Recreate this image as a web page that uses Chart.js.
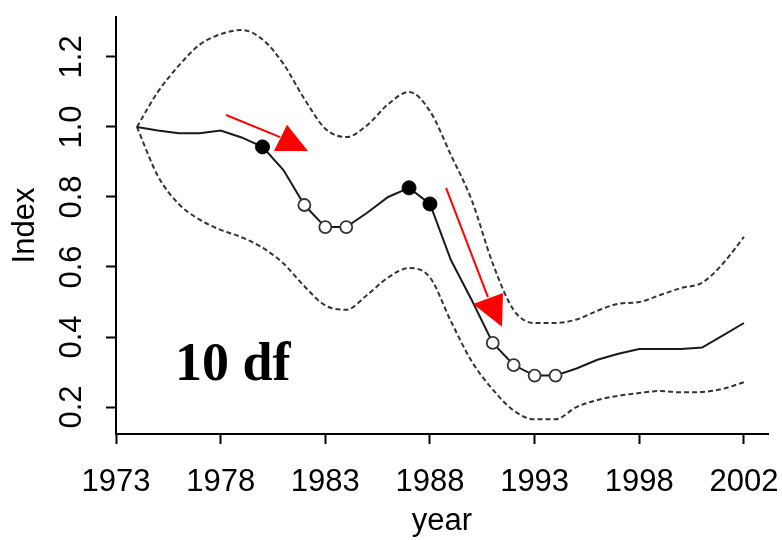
<!DOCTYPE html>
<html>
<head>
<meta charset="utf-8">
<script src="https://cdn.jsdelivr.net/npm/chart.js@4.4.1/dist/chart.umd.min.js"></script>
<style>
  html, body { margin: 0; padding: 0; background: #fff; }
  #wrap { width: 782px; height: 540px; }
</style>
</head>
<body>
<div id="wrap"><canvas id="indexChart" width="782" height="540"></canvas></div>
<script>
// ---- data ----
const years = [1974, 1975, 1976, 1977, 1978, 1979, 1980, 1981, 1982, 1983,
               1984, 1985, 1986, 1987, 1988, 1989, 1990, 1991, 1992, 1993,
               1994, 1995, 1996, 1997, 1998, 1999, 2000, 2001, 2002, 2003];
const indexFit = [1.0, 0.99, 0.982, 0.982, 0.99, 0.97, 0.943, 0.877, 0.777, 0.714,
                  0.714, 0.755, 0.80, 0.826, 0.78, 0.62, 0.505, 0.383, 0.32, 0.29,
                  0.29, 0.31, 0.335, 0.352, 0.366, 0.366, 0.366, 0.37, 0.405, 0.44];
const upperBand = [1.0, 1.10, 1.175, 1.235, 1.265, 1.277, 1.25, 1.18, 1.08, 0.995,
                   0.971, 1.005, 1.065, 1.10, 1.045, 0.92, 0.79, 0.61, 0.477, 0.44,
                   0.44, 0.45, 0.475, 0.495, 0.50, 0.52, 0.54, 0.555, 0.61, 0.686];
const lowerBand = [1.0, 0.86, 0.78, 0.735, 0.706, 0.685, 0.655, 0.61, 0.545, 0.49,
                   0.478, 0.52, 0.57, 0.597, 0.57, 0.445, 0.33, 0.25, 0.19, 0.165,
                   0.165, 0.2, 0.22, 0.232, 0.24, 0.246, 0.242, 0.243, 0.252, 0.271];
const filledYears = [1980, 1987, 1988];
const openYears = [1982, 1983, 1984, 1991, 1992, 1993, 1994];

const xTickValues = [1973, 1978, 1983, 1988, 1993, 1998, 2003];
const xTickLabels = ["1973", "1978", "1983", "1988", "1993", "1998", "2002"];
const yTickValues = [0.2, 0.4, 0.6, 0.8, 1.0, 1.2];

// red arrows, in data units: shaft start/end and the head triangle
const arrowShafts = [
  [[1978.26, 1.034], [1980.84, 0.971]],
  [[1988.77, 0.826], [1990.77, 0.514]],
];
const arrowHeads = [
  [[1981.17, 1.006], [1980.55, 0.931], [1982.17, 0.931]],
  [[1990.06, 0.494], [1991.49, 0.526], [1991.44, 0.429]],
];
const noteText = "10 df";
const notePos = [1975.82, 0.277];

// ---- helpers ----
function toPoints(xs, ys) {
  return xs.map((x, i) => ({ x, y: ys[i] }));
}

function pickYears(list) {
  return list.map(y => ({ x: y, y: indexFit[years.indexOf(y)] }));
}

// keep the plot box where the figure has it (no extra room for label overhang)
function fixScaleBox(size) {
  return (scale) => {
    if (scale.isHorizontal()) scale.height = size; else scale.width = size;
    scale.paddingLeft = 0;
    scale.paddingRight = 0;
    scale.paddingTop = 0;
    scale.paddingBottom = 0;
  };
}

// draws the arrows and the "10 df" label on top of the series
const annotationPlugin = {
  id: "annotations",
  afterDatasetsDraw(chart) {
    const { ctx, scales: { x, y } } = chart;
    ctx.save();
    ctx.strokeStyle = "#ff0000";
    ctx.fillStyle = "#ff0000";
    ctx.lineWidth = 2;
    arrowShafts.forEach(([a, b], i) => {
      ctx.beginPath();
      ctx.moveTo(x.getPixelForValue(a[0]), y.getPixelForValue(a[1]));
      ctx.lineTo(x.getPixelForValue(b[0]), y.getPixelForValue(b[1]));
      ctx.stroke();
      const head = arrowHeads[i];
      ctx.beginPath();
      head.forEach((p, k) => {
        const px = x.getPixelForValue(p[0]);
        const py = y.getPixelForValue(p[1]);
        if (k === 0) ctx.moveTo(px, py); else ctx.lineTo(px, py);
      });
      ctx.closePath();
      ctx.fill();
    });

    ctx.fillStyle = "#000";
    ctx.font = "bold 54px 'Liberation Serif', 'Times New Roman', serif";
    ctx.textAlign = "left";
    ctx.textBaseline = "alphabetic";
    ctx.fillText(noteText, x.getPixelForValue(notePos[0]), y.getPixelForValue(notePos[1]));
    ctx.restore();
  },
};

Chart.defaults.font.family = "'Liberation Sans', Arial, sans-serif";
Chart.defaults.color = "#000";

const bandStyle = {
  borderColor: "#333",
  borderWidth: 2,
  borderDash: [5, 3],
  pointRadius: 0,
  fill: false,
  cubicInterpolationMode: "monotone",
  order: 3,
};

new Chart(document.getElementById("indexChart"), {
  type: "line",
  data: {
    datasets: [
      { label: "upper", data: toPoints(years, upperBand), ...bandStyle },
      { label: "lower", data: toPoints(years, lowerBand), ...bandStyle },
      {
        label: "fit",
        data: toPoints(years, indexFit),
        borderColor: "#1a1a1a",
        borderWidth: 2,
        pointRadius: 0,
        tension: 0,
        fill: false,
        order: 2,
      },
      {
        label: "open",
        type: "scatter",
        data: pickYears(openYears),
        pointRadius: 6,
        pointBackgroundColor: "#ffffff",
        pointBorderColor: "#333",
        pointBorderWidth: 1.8,
        order: 1,
      },
      {
        label: "filled",
        type: "scatter",
        data: pickYears(filledYears),
        pointRadius: 7,
        pointBackgroundColor: "#000",
        pointBorderColor: "#000",
        pointBorderWidth: 1,
        order: 0,
      },
    ],
  },
  options: {
    responsive: false,
    animation: false,
    layout: { padding: { top: 17, right: 14, left: 0, bottom: 0 } },
    plugins: {
      legend: { display: false },
      tooltip: { enabled: false },
    },
    scales: {
      x: {
        type: "linear",
        min: 1973,
        max: 2004.15,
        afterBuildTicks: (scale) => {
          scale.ticks = xTickValues.map(v => ({ value: v }));
        },
        afterFit: fixScaleBox(106),
        grid: {
          display: true,
          drawOnChartArea: false,
          drawTicks: true,
          tickLength: 10,
          tickWidth: 2,
          tickColor: "#000",
        },
        border: { display: true, color: "#000", width: 2 },
        ticks: {
          padding: 20,
          maxRotation: 0,
          autoSkip: false,
          font: { size: 31 },
          callback: (value) => xTickLabels[xTickValues.indexOf(value)],
        },
        title: {
          display: true,
          text: "year",
          font: { size: 31 },
          padding: { top: 0, bottom: 0 },
        },
      },
      y: {
        type: "linear",
        min: 0.123,
        max: 1.314,
        afterBuildTicks: (scale) => {
          scale.ticks = yTickValues.map(v => ({ value: v }));
        },
        afterFit: fixScaleBox(116),
        grid: {
          display: true,
          drawOnChartArea: false,
          drawTicks: true,
          tickLength: 10,
          tickWidth: 2,
          tickColor: "#000",
        },
        border: { display: true, color: "#000", width: 2 },
        ticks: {
          padding: 12,
          minRotation: 90,
          maxRotation: 90,
          crossAlign: "center",
          autoSkip: false,
          font: { size: 31 },
          callback: (value) => value.toFixed(1),
        },
        title: {
          display: true,
          text: "Index",
          font: { size: 31 },
          padding: { top: 7, bottom: 0 },
        },
      },
    },
  },
  plugins: [annotationPlugin],
});
</script>
</body>
</html>
